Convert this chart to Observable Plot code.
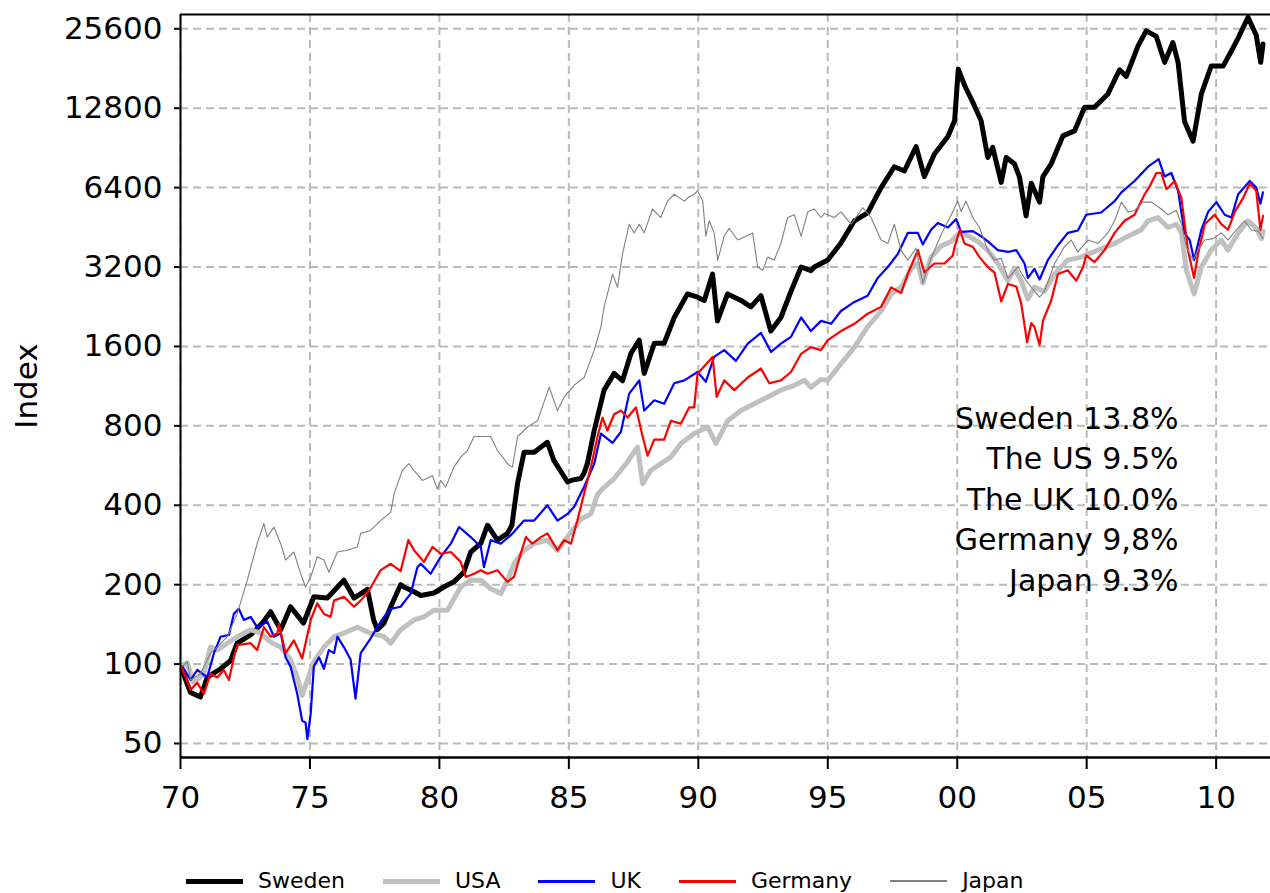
<!DOCTYPE html>
<html><head><meta charset="utf-8">
<script src="https://cdn.jsdelivr.net/npm/d3@7"></script>
<script src="https://cdn.jsdelivr.net/npm/@observablehq/plot@0.6"></script>
<style>
body{margin:0;background:#fff;}
#wrap{position:relative;width:1270px;height:893px;overflow:hidden;background:#fff;}
#chart svg [aria-label="x-axis tick"] path, #chart svg [aria-label="y-axis tick"] path,
#chart svg g[aria-label="x-axis"] .tick line, #chart svg g[aria-label="y-axis"] .tick line {stroke-width:2px;}
#legend{position:absolute;top:868px;left:186px;display:flex;align-items:center;font-family:"DejaVu Sans",sans-serif;font-size:22px;line-height:26px;color:#000;white-space:nowrap;}
#legend .sw{display:inline-block;width:57px;margin-right:15px;}
#legend .lb{margin-right:38px;}
</style></head>
<body><div id="wrap"><div id="chart"></div><div id="legend"></div></div>
<script>
// ---- data (year, index value) ----
const sweden = [[1970.07,94],[1970.39,78],[1970.77,75],[1971.03,89],[1971.55,96],[1971.93,103],[1972.19,120],[1972.71,129],[1973.16,143],[1973.48,158],[1973.87,135],[1974.25,165],[1974.75,143],[1975.15,180],[1975.67,178],[1976.31,208],[1976.7,178],[1977.22,192],[1977.46,147],[1977.6,135],[1977.86,143],[1978.12,165],[1978.5,200],[1978.63,196],[1979.02,188],[1979.28,182],[1979.79,186],[1980.17,196],[1980.56,205],[1980.94,223],[1981.21,266],[1981.6,287],[1981.86,336],[1982.24,295],[1982.63,313],[1982.8,336],[1983.02,485],[1983.27,635],[1983.66,635],[1984.17,693],[1984.42,592],[1984.95,490],[1985.08,497],[1985.46,505],[1985.59,530],[1985.72,578],[1985.98,768],[1986.36,1093],[1986.75,1265],[1987.07,1186],[1987.4,1508],[1987.72,1690],[1987.91,1265],[1988.3,1645],[1988.68,1645],[1989.07,2060],[1989.58,2530],[1989.97,2460],[1990.23,2390],[1990.55,3010],[1990.74,2000],[1991.13,2530],[1991.65,2390],[1992.03,2260],[1992.42,2490],[1992.8,1830],[1993.19,2060],[1993.58,2590],[1993.97,3200],[1994.35,3100],[1994.48,3200],[1995.0,3400],[1995.51,3950],[1996.03,4790],[1996.54,5130],[1997.06,6400],[1997.57,7680],[1997.96,7400],[1998.41,9160],[1998.73,7050],[1999.12,8580],[1999.64,10000],[1999.9,11500],[2000.04,18000],[2000.3,15500],[2000.6,13500],[2000.92,11500],[2001.18,8330],[2001.37,9100],[2001.7,6700],[2001.89,8330],[2002.21,7880],[2002.4,7050],[2002.66,5000],[2002.86,6650],[2003.18,5640],[2003.31,7050],[2003.63,7880],[2004.08,10050],[2004.53,10500],[2004.92,12900],[2005.3,12900],[2005.82,14500],[2006.27,17900],[2006.53,16900],[2006.98,22000],[2007.3,25150],[2007.69,23950],[2008.01,19100],[2008.33,22700],[2008.53,19100],[2008.78,11400],[2009.11,9600],[2009.43,14500],[2009.81,18500],[2010.27,18500],[2010.59,21100],[2010.85,23600],[2011.23,28300],[2011.55,24200],[2011.72,19100],[2011.81,22400]];

const usa = [[1970.07,99],[1970.26,101],[1970.51,85],[1970.9,92],[1971.16,116],[1971.42,113],[1971.81,120],[1972.19,127],[1972.71,135],[1973.09,131],[1973.48,121],[1973.87,116],[1974.25,104],[1974.51,89],[1974.7,76],[1974.9,87],[1975.15,102],[1975.54,116],[1975.93,127],[1976.31,131],[1976.83,138],[1977.34,131],[1977.86,127],[1978.12,120],[1978.5,135],[1979.02,147],[1979.4,151],[1979.79,160],[1980.31,160],[1980.82,196],[1981.21,208],[1981.6,208],[1981.98,193],[1982.37,185],[1982.63,208],[1982.88,240],[1983.27,270],[1983.66,286],[1984.17,295],[1984.56,270],[1984.95,303],[1985.46,355],[1985.85,371],[1986.11,440],[1986.36,468],[1986.75,505],[1987.27,585],[1987.65,665],[1987.85,483],[1988.16,542],[1988.55,575],[1988.94,609],[1989.33,686],[1989.84,748],[1990.36,792],[1990.68,686],[1991.13,836],[1991.65,914],[1992.16,970],[1992.68,1029],[1993.19,1093],[1993.71,1140],[1994.1,1190],[1994.35,1120],[1994.74,1200],[1995.0,1190],[1995.51,1375],[1996.03,1590],[1996.54,1900],[1997.06,2180],[1997.45,2530],[1997.83,2680],[1998.22,3150],[1998.48,3300],[1998.67,2780],[1998.99,3490],[1999.38,3850],[1999.77,4000],[2000.08,4310],[2000.41,4200],[2000.8,4000],[2001.18,3700],[2001.57,3300],[2001.96,2840],[2002.21,3150],[2002.47,2840],[2002.73,2420],[2002.98,2680],[2003.37,2590],[2003.76,3010],[2004.27,3400],[2004.79,3490],[2005.05,3580],[2005.56,3750],[2006.08,3930],[2006.6,4190],[2007.11,4430],[2007.37,4790],[2007.75,4930],[2008.14,4520],[2008.46,4650],[2008.66,4310],[2008.85,3110],[2009.15,2530],[2009.43,3200],[2009.81,3710],[2010.2,4050],[2010.46,3710],[2010.85,4310],[2011.23,4790],[2011.55,4490],[2011.75,4100],[2011.81,4370]];

const uk = [[1970.07,98],[1970.39,87],[1970.65,95],[1971.03,89],[1971.29,110],[1971.55,127],[1971.87,129],[1972.06,155],[1972.25,162],[1972.45,147],[1972.71,151],[1972.96,138],[1973.35,145],[1973.61,127],[1973.87,131],[1974.06,106],[1974.25,98],[1974.51,77],[1974.7,61],[1974.83,60],[1974.9,52],[1975.03,65],[1975.15,98],[1975.35,106],[1975.54,96],[1975.73,113],[1975.93,110],[1976.06,127],[1976.31,116],[1976.57,104],[1976.76,74],[1976.96,110],[1977.34,125],[1977.6,138],[1977.86,151],[1978.12,162],[1978.5,165],[1978.89,185],[1979.15,233],[1979.28,240],[1979.66,220],[1980.05,255],[1980.44,286],[1980.76,331],[1981.21,303],[1981.6,278],[1981.72,233],[1981.98,295],[1982.37,286],[1982.76,308],[1983.27,350],[1983.66,350],[1984.17,400],[1984.56,350],[1984.95,371],[1985.2,394],[1985.59,470],[1985.98,575],[1986.24,748],[1986.69,690],[1987.01,760],[1987.33,1060],[1987.72,1190],[1987.91,914],[1988.3,1000],[1988.68,970],[1989.07,1160],[1989.46,1190],[1989.97,1280],[1990.29,1175],[1990.61,1460],[1991.0,1550],[1991.45,1410],[1991.91,1640],[1992.42,1800],[1992.81,1525],[1993.19,1640],[1993.58,1740],[1993.97,2060],[1994.35,1830],[1994.74,2000],[1995.13,1950],[1995.51,2180],[1996.03,2360],[1996.54,2490],[1996.93,2910],[1997.32,3200],[1997.7,3580],[1998.09,4310],[1998.48,4310],[1998.67,3900],[1998.99,4430],[1999.25,4700],[1999.64,4520],[1999.96,4860],[2000.15,4350],[2000.6,4380],[2000.92,4190],[2001.18,4000],[2001.57,3710],[2001.96,3650],[2002.28,3710],[2002.6,3300],[2002.73,2910],[2002.98,3150],[2003.18,2870],[2003.5,3400],[2003.89,3870],[2004.27,4310],[2004.66,4400],[2004.98,5050],[2005.56,5150],[2006.08,5690],[2006.34,6140],[2006.85,6780],[2007.37,7680],[2007.78,8200],[2008.01,7050],[2008.27,7270],[2008.53,6220],[2008.78,4310],[2008.98,4050],[2009.15,3400],[2009.43,4430],[2009.69,5180],[2010.01,5640],[2010.33,5050],[2010.59,4930],[2010.85,6040],[2011.3,6780],[2011.55,6400],[2011.71,5560],[2011.81,6140]];

const germany = [[1970.07,96],[1970.39,80],[1970.65,85],[1970.9,77],[1971.16,92],[1971.42,89],[1971.67,95],[1971.87,87],[1972.06,106],[1972.19,118],[1972.71,120],[1972.96,113],[1973.22,138],[1973.48,127],[1973.74,131],[1973.8,142],[1974.06,110],[1974.38,123],[1974.7,105],[1975.03,147],[1975.28,170],[1975.54,155],[1975.8,151],[1975.93,174],[1976.31,180],[1976.7,165],[1976.96,174],[1977.28,190],[1977.73,227],[1978.12,240],[1978.5,225],[1978.8,295],[1979.02,270],[1979.4,244],[1979.73,278],[1980.05,262],[1980.44,266],[1980.82,244],[1981.02,214],[1981.34,220],[1981.6,227],[1981.86,220],[1982.24,227],[1982.63,205],[1982.88,214],[1983.14,262],[1983.34,303],[1983.59,286],[1983.92,303],[1984.17,313],[1984.56,270],[1984.82,295],[1985.08,286],[1985.33,350],[1985.59,443],[1985.85,558],[1986.11,729],[1986.3,860],[1986.49,768],[1986.75,885],[1987.01,914],[1987.27,860],[1987.59,940],[1987.85,729],[1988.04,617],[1988.3,710],[1988.68,710],[1988.94,836],[1989.33,816],[1989.65,940],[1989.84,940],[1989.97,1260],[1990.36,1390],[1990.55,1460],[1990.71,1030],[1991.0,1190],[1991.39,1093],[1991.91,1220],[1992.42,1320],[1992.74,1160],[1993.19,1190],[1993.58,1280],[1993.97,1500],[1994.35,1590],[1994.74,1550],[1995.0,1690],[1995.51,1830],[1996.03,1950],[1996.54,2130],[1997.06,2260],[1997.45,2680],[1997.83,2550],[1998.09,3010],[1998.48,3710],[1998.73,3050],[1999.12,3300],[1999.51,3300],[1999.83,3540],[1999.9,3820],[2000.1,4430],[2000.28,3930],[2000.6,3820],[2000.86,3490],[2001.18,3200],[2001.44,3050],[2001.7,2370],[2001.96,2760],[2002.28,2700],[2002.47,2330],[2002.7,1660],[2002.86,1960],[2002.98,1900],[2003.18,1620],[2003.31,2000],[2003.63,2390],[2003.89,3010],[2004.27,3110],[2004.6,2840],[2004.86,3200],[2004.98,3540],[2005.3,3340],[2005.69,3710],[2006.08,4310],[2006.46,4790],[2006.85,5050],[2007.24,6040],[2007.43,6460],[2007.69,7270],[2007.88,7270],[2008.08,6310],[2008.4,6780],[2008.66,5840],[2008.91,3710],[2009.15,2910],[2009.3,3580],[2009.56,4650],[2009.94,5050],[2010.2,4650],[2010.46,4430],[2010.72,5180],[2011.04,5840],[2011.3,6630],[2011.55,6220],[2011.71,4430],[2011.81,5000]];

const japan = [[1970.07,98],[1970.26,102],[1970.39,87],[1970.77,92],[1971.16,110],[1971.42,116],[1971.81,127],[1972.19,155],[1972.58,208],[1972.96,286],[1973.22,341],[1973.35,303],[1973.61,331],[1973.87,286],[1974.06,248],[1974.38,266],[1974.64,220],[1974.83,196],[1975.03,214],[1975.28,255],[1975.54,248],[1975.73,223],[1976.06,266],[1976.44,270],[1976.83,278],[1976.96,313],[1977.34,321],[1977.73,350],[1978.12,376],[1978.25,443],[1978.57,542],[1978.82,575],[1979.02,542],[1979.34,497],[1979.73,518],[1979.92,461],[1980.05,497],[1980.24,468],[1980.56,558],[1980.82,609],[1981.08,645],[1981.34,729],[1981.66,729],[1981.98,729],[1982.24,645],[1982.44,609],[1982.69,567],[1982.82,558],[1983.02,729],[1983.4,792],[1983.79,836],[1984.24,1120],[1984.56,914],[1984.82,1030],[1985.2,1140],[1985.59,1220],[1985.98,1550],[1986.24,1900],[1986.36,2260],[1986.69,3010],[1986.88,2680],[1987.07,3580],[1987.33,4650],[1987.52,4310],[1987.72,4650],[1987.91,4310],[1988.23,5310],[1988.55,4930],[1988.81,5690],[1989.07,6040],[1989.46,5690],[1989.65,5910],[1989.84,6040],[1989.97,6220],[1990.17,5690],[1990.29,4190],[1990.42,4790],[1990.61,4310],[1990.75,3400],[1991.0,4190],[1991.19,4490],[1991.52,4050],[1991.84,4190],[1992.1,4310],[1992.29,3200],[1992.49,3110],[1992.68,3490],[1992.93,3400],[1993.19,3930],[1993.45,4930],[1993.71,5050],[1993.97,4190],[1994.23,5180],[1994.48,5310],[1994.74,4930],[1994.87,5110],[1995.25,4930],[1995.51,5180],[1995.9,4650],[1996.35,5370],[1996.67,4930],[1997.06,4050],[1997.32,3930],[1997.57,4650],[1997.83,3700],[1998.09,3400],[1998.41,3770],[1998.67,2780],[1998.99,3450],[1999.38,4250],[1999.77,5050],[2000.02,5690],[2000.15,5200],[2000.34,5690],[2000.6,4930],[2000.86,4520],[2001.18,3700],[2001.44,3400],[2001.7,3450],[2001.96,2900],[2002.34,3200],[2002.6,2900],[2002.86,2680],[2003.18,2460],[2003.37,2590],[2003.76,3300],[2004.14,3820],[2004.4,4050],[2004.66,3650],[2005.05,4050],[2005.44,3930],[2005.82,4310],[2006.08,4790],[2006.34,5640],[2006.6,5180],[2006.85,5240],[2007.17,5640],[2007.5,5640],[2007.88,5310],[2008.14,5050],[2008.46,5240],[2008.66,4650],[2008.85,3820],[2009.11,3400],[2009.3,3710],[2009.56,4050],[2009.88,4100],[2010.2,4310],[2010.46,4050],[2010.78,4430],[2011.1,4790],[2011.36,4430],[2011.64,4370],[2011.81,4100]];

const countries = ["Sweden", "USA", "UK", "Germany", "Japan"];
const seriesData = [sweden, usa, uk, germany, japan];
const xTicks = [1970, 1975, 1980, 1985, 1990, 1995, 2000, 2005, 2010];
const yTicks = [50, 100, 200, 400, 800, 1600, 3200, 6400, 12800, 25600];
const annotation = ["Sweden 13.8%", "The US 9.5%", "The UK 10.0%", "Germany 9,8%", "Japan 9.3%"];

// ---- styles ----
const colors = ["#000000", "#c0c0c0", "#0000ff", "#ff0000", "#808080"];
const widths = [5, 5, 2.2, 2.2, 1.1];
const legendWidths = [5, 5, 3, 3, 1.5];
const xDomain = [1970, 2012.1];
const yDomain = [44.25, 29000];

const rows = countries.map((c, i) => seriesData[i].map(([year, value]) => ({country: c, year, value})));

const gridStyle = {stroke: "#bababa", strokeWidth: 2, strokeDasharray: "8,5", strokeOpacity: 1};

const chart = Plot.plot({
  width: 1270,
  height: 835,
  marginLeft: 180,
  marginRight: 0,
  marginTop: 14,
  marginBottom: 78,
  style: {fontFamily: "DejaVu Sans, sans-serif", fontSize: "31px", color: "#000", background: "#fff", overflow: "visible"},
  x: {domain: xDomain, ticks: xTicks, tickFormat: d => String(d % 100).padStart(2, "0"), tickSize: 12, tickPadding: 16, label: null},
  y: {type: "log", base: 2, domain: yDomain, ticks: yTicks, tickFormat: d => String(d), tickSize: 6, tickPadding: 12,
      label: "Index", labelArrow: "none", labelAnchor: "center", labelOffset: 166},
  marks: [
    Plot.ruleX(xTicks, {x: d => d, ...gridStyle}),
    Plot.ruleY(yTicks, {y: d => d, ...gridStyle}),
    ...rows.map((r, i) => Plot.line(r, {x: "year", y: "value", stroke: colors[i], strokeWidth: widths[i], strokeLinejoin: "round", strokeLinecap: "round"})),
    Plot.text([annotation.join("\n")], {text: d => d, frameAnchor: "right", textAnchor: "end", lineAnchor: "middle", lineHeight: 1.35, dx: -92, dy: 111, fontSize: 30, fill: "#000"}),
    Plot.ruleX([xDomain[0]], {x: d => d, stroke: "#000", strokeWidth: 2}),
    Plot.ruleY([yDomain[0]], {y: d => d, stroke: "#000", strokeWidth: 2.5}),
    Plot.ruleY([yDomain[1]], {y: d => d, stroke: "#000", strokeWidth: 2})
  ]
});
document.getElementById("chart").appendChild(chart);
// make sure the axis label has no direction arrow
d3.select(chart).selectAll("text").each(function() {
  const t = this.textContent;
  if (/Index/.test(t) && t !== "Index") {
    const tspans = this.querySelectorAll("tspan");
    if (tspans.length) tspans.forEach(s => { s.textContent = s.textContent.replace(/[↑→←↓]\s*/g, "").trim(); });
    else this.textContent = "Index";
  }
});

const legend = document.getElementById("legend");
countries.forEach((c, i) => {
  const sw = document.createElement("span");
  sw.className = "sw";
  sw.style.height = legendWidths[i] + "px";
  sw.style.background = colors[i];
  const lb = document.createElement("span");
  lb.className = "lb";
  lb.textContent = c;
  legend.appendChild(sw);
  legend.appendChild(lb);
});
</script></body></html>
